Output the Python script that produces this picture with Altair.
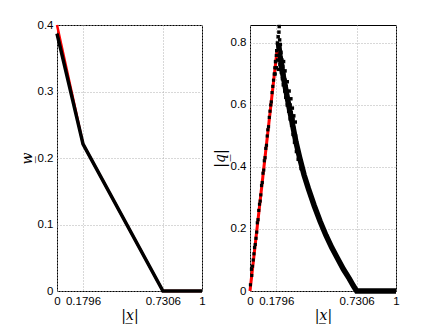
import altair as alt
import pandas as pd

# ---- data ----
x_ticks = [0, 0.1796, 0.7306, 1]

# left panel: w vs |x|
left_x = [0, 0.1796, 0.7306, 1]
left_w_black = [0.387, 0.221, 0.0, 0.0]
left_w_red = [0.400, 0.221, 0.0, 0.0]

# right panel: |q| vs |x|
red_q_x = [0, 0.185]
red_q_y = [0, 0.775]

rise_x = [0.003, 0.010, 0.012, 0.017, 0.022, 0.027, 0.031, 0.036, 0.041, 0.046,
          0.050, 0.055, 0.060, 0.065, 0.070, 0.074, 0.079, 0.084, 0.089, 0.094,
          0.098, 0.103, 0.108, 0.113, 0.118, 0.122, 0.127, 0.132, 0.137, 0.142,
          0.146, 0.151, 0.156, 0.161, 0.166, 0.170, 0.175, 0.180]
rise_q = [0.02, 0.07, 0.05, 0.08, 0.10, 0.12, 0.14, 0.15, 0.17, 0.19,
          0.22, 0.23, 0.26, 0.28, 0.29, 0.31, 0.34, 0.35, 0.38, 0.39,
          0.42, 0.43, 0.46, 0.47, 0.50, 0.52, 0.53, 0.56, 0.58, 0.60,
          0.61, 0.64, 0.66, 0.68, 0.70, 0.72, 0.74, 0.76]

peak_x = [0.200, 0.198, 0.193, 0.203, 0.188, 0.208, 0.195, 0.183, 0.212, 0.198,
          0.190, 0.218, 0.205, 0.225, 0.195, 0.215, 0.232, 0.222, 0.240, 0.228,
          0.248, 0.238, 0.255, 0.245, 0.262, 0.255, 0.275, 0.265, 0.282, 0.275,
          0.295, 0.285, 0.300, 0.295, 0.312, 0.305, 0.322, 0.318, 0.335, 0.330,
          0.348, 0.350, 0.362,
          0.175, 0.180, 0.172, 0.230, 0.240, 0.255, 0.268, 0.280, 0.290, 0.300,
          0.310]
peak_q = [0.853, 0.835, 0.820, 0.810, 0.800, 0.795, 0.785, 0.775, 0.770, 0.760,
          0.745, 0.745, 0.730, 0.725, 0.715, 0.705, 0.700, 0.685, 0.680, 0.665,
          0.660, 0.645, 0.640, 0.625, 0.620, 0.600, 0.600, 0.580, 0.575, 0.555,
          0.555, 0.535, 0.525, 0.505, 0.500, 0.480, 0.470, 0.450, 0.445, 0.425,
          0.420, 0.395, 0.385,
          0.740, 0.720, 0.700, 0.740, 0.710, 0.675, 0.645, 0.620, 0.590, 0.565,
          0.545]

fall_x = [0.195, 0.205, 0.225, 0.245, 0.265, 0.290, 0.315, 0.340, 0.370, 0.400,
          0.440, 0.480, 0.520, 0.560, 0.600, 0.640, 0.680, 0.710, 0.7306, 1.0]
fall_q = [0.800, 0.760, 0.700, 0.650, 0.600, 0.540, 0.480, 0.430, 0.375, 0.330,
          0.275, 0.225, 0.180, 0.140, 0.105, 0.070, 0.040, 0.015, 0.0, 0.0]

# ---- tables ----
df_left_black = pd.DataFrame({"x": left_x, "y": left_w_black})
df_left_red = pd.DataFrame({"x": left_x, "y": left_w_red})
df_red_q = pd.DataFrame({"x": red_q_x, "y": red_q_y})
df_rise = pd.DataFrame({"x": rise_x, "y": rise_q})
df_peak = pd.DataFrame({"x": peak_x, "y": peak_q})
df_fall = pd.DataFrame({"x": fall_x, "y": fall_q})

label_font = "Liberation Sans"
title_font = "DejaVu Serif"

label_expr = ("datum.value == 0 ? '0' : datum.value == 1 ? '1' : "
              "format(datum.value, '.4f')")

x_enc = alt.X("x:Q", scale=alt.Scale(domain=[0, 1], nice=False),
              axis=alt.Axis(values=x_ticks, labelExpr=label_expr, title="|x̲|",
                            labelFlush=False))


def y_enc(domain, values, title, fmt):
    return alt.Y("y:Q", scale=alt.Scale(domain=domain, nice=False, zero=False),
                 axis=alt.Axis(values=values, title=title, format=fmt,
                               labelFlush=False))


w = 145
h = 266

left_red = alt.Chart(df_left_red).mark_line(color="#ff0000", strokeWidth=2.5).encode(
    x=x_enc, y=y_enc([0, 0.4], [0, 0.1, 0.2, 0.3, 0.4], "w̲", "~g"))
left_black = alt.Chart(df_left_black).mark_line(color="black", strokeWidth=3.5).encode(
    x="x:Q", y="y:Q")
left = alt.layer(left_red, left_black).properties(width=w, height=h)

yq = y_enc([0, 0.858], [0, 0.2, 0.4, 0.6, 0.8], "|q̲|", "~g")
r_fall = alt.Chart(df_fall).mark_line(color="black", strokeWidth=5.5).encode(x=x_enc, y=yq)
r_red = alt.Chart(df_red_q).mark_line(color="#ff0000", strokeWidth=3).encode(x="x:Q", y="y:Q")
r_rise = alt.Chart(df_rise).mark_square(color="black", size=10, opacity=1).encode(x="x:Q", y="y:Q")
r_peak = alt.Chart(df_peak).mark_square(color="black", size=12, opacity=1).encode(x="x:Q", y="y:Q")
right = alt.layer(r_fall, r_red, r_rise, r_peak).properties(width=w + 1, height=h)

chart = alt.hconcat(left, right, spacing=2).properties(
    padding={"left": 11, "top": 10, "right": 5, "bottom": 3}
).configure_view(
    stroke="black", strokeWidth=1
).configure_axis(
    grid=True, gridColor="#b0b0b0", gridDash=[1, 2], gridWidth=1,
    domain=False, ticks=False,
    labelFont=label_font, labelFontSize=11.5, labelColor="black", labelPadding=4,
    titleFont=title_font, titleFontStyle="italic", titleFontWeight="normal",
    titleFontSize=14, titleColor="black",
).configure_axisX(titlePadding=2).configure_axisY(titlePadding=3)

chart.save("out.html", embed_options={"renderer": "svg", "actions": False})
